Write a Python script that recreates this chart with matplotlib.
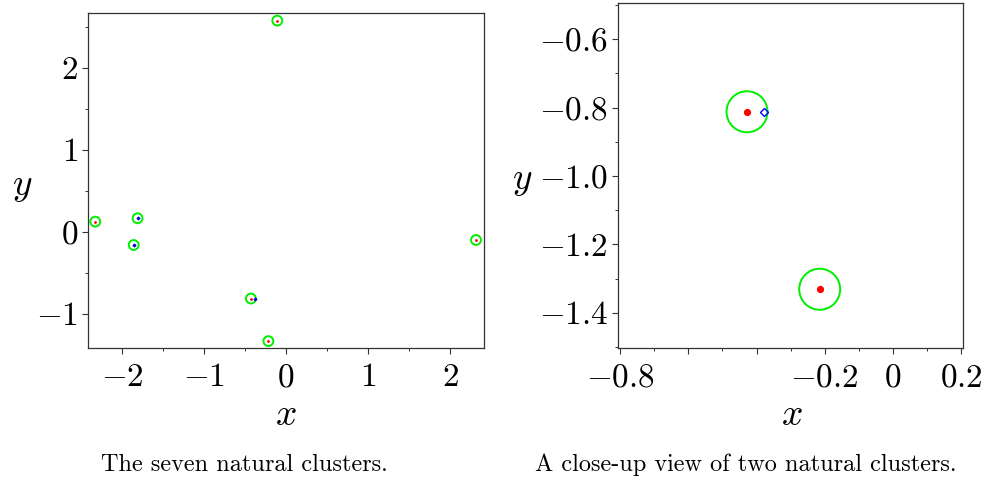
import matplotlib
matplotlib.use("Agg")
import matplotlib.pyplot as plt
from matplotlib.patches import Circle
from matplotlib.ticker import FixedLocator, FixedFormatter, MultipleLocator

plt.rcParams["mathtext.fontset"] = "cm"
plt.rcParams["font.family"] = ["cmr10", "DejaVu Serif"]
plt.rcParams["axes.formatter.use_mathtext"] = True

# cluster centres (red) and the extra points (blue)
centre_x = [-2.326, -1.810, -1.857, -0.428, -0.215, -0.106, 2.317]
centre_y = [0.126, 0.167, -0.159, -0.812, -1.331, 2.577, -0.098]
blue_x = [-1.810, -1.857, -0.378]
blue_y = [0.167, -0.159, -0.812]
radius = 0.06

left_xticks = [-2, -1, 0, 1, 2]
left_yticks = [-1, 0, 1, 2]
right_xticks = [-0.8, -0.6, -0.4, -0.2, 0.0, 0.2]
right_xlabels = ["$-0.8$", "", "", "$-0.2$", "$0$", "$0.2$"]
right_yticks = [-1.4, -1.2, -1.0, -0.8, -0.6]
right_ylabels = ["$-1.4$", "$-1.2$", "$-1.0$", "$-0.8$", "$-0.6$"]

GREEN = "#00ee00"
FS = 24
LFS = 27

fig = plt.figure(figsize=(9.85, 4.8), dpi=100)
axL = fig.add_axes([0.0893, 0.275, 0.4021, 0.6979])
axR = fig.add_axes([0.6271, 0.2756, 0.3509, 0.7188])


def style(ax):
    for s in ax.spines.values():
        s.set_linewidth(0.9)
        s.set_color("#333333")
    ax.tick_params(which="major", direction="out", length=4, width=0.8,
                   labelsize=FS, color="#333333")
    ax.tick_params(which="minor", direction="out", length=2.5, width=0.7, color="#333333")
    ax.tick_params(axis="x", which="major", pad=7)
    ax.tick_params(axis="y", which="major", pad=3)


def draw(ax, ms_red, ms_blue, blue_style):
    for cx, cy in zip(centre_x, centre_y):
        ax.add_patch(Circle((cx, cy), radius, fill=False, ec=GREEN, lw=1.4, zorder=2))
    ax.plot(centre_x, centre_y, "o", color="red", ms=ms_red, mew=0, zorder=3)
    ax.plot(blue_x, blue_y, "D", ms=ms_blue, zorder=4, **blue_style)


# left panel: all seven clusters
style(axL)
draw(axL, 2.0, 2.2, dict(color="blue", mew=0))
axL.set_xlim(-2.415, 2.415)
axL.set_ylim(-1.415, 2.67)
axL.xaxis.set_major_locator(FixedLocator(left_xticks))
axL.yaxis.set_major_locator(FixedLocator(left_yticks))
axL.xaxis.set_minor_locator(MultipleLocator(0.5))
axL.yaxis.set_minor_locator(MultipleLocator(0.5))
axL.set_xlabel("$x$", fontsize=LFS)
axL.set_ylabel("$y$", fontsize=LFS, rotation=0)
axL.xaxis.set_label_coords(0.5, -0.152)
axL.yaxis.set_label_coords(-0.165, 0.43)

# right panel: close-up of two clusters
style(axR)
draw(axR, 5.2, 4.5, dict(mfc="none", mec="blue", mew=1.0))
axR.set_xlim(-0.807, 0.206)
axR.set_ylim(-1.502, -0.493)
axR.xaxis.set_major_locator(FixedLocator(right_xticks))
axR.xaxis.set_major_formatter(FixedFormatter(right_xlabels))
axR.yaxis.set_major_locator(FixedLocator(right_yticks))
axR.yaxis.set_major_formatter(FixedFormatter(right_ylabels))
axR.xaxis.set_minor_locator(MultipleLocator(0.1))
axR.yaxis.set_minor_locator(MultipleLocator(0.1))
axR.set_xlabel("$x$", fontsize=LFS)
axR.set_ylabel("$y$", fontsize=LFS, rotation=0)
axR.xaxis.set_label_coords(0.503, -0.147)
axR.yaxis.set_label_coords(-0.275, 0.435)

fig.text(244 / 985, 1 - 465 / 480, "The seven natural clusters.", fontsize=17.5,
         ha="center", va="center")
fig.text(746 / 985, 1 - 465 / 480, "A close-up view of two natural clusters.", fontsize=17.5,
         ha="center", va="center")

fig.savefig("out.png", dpi=100)
